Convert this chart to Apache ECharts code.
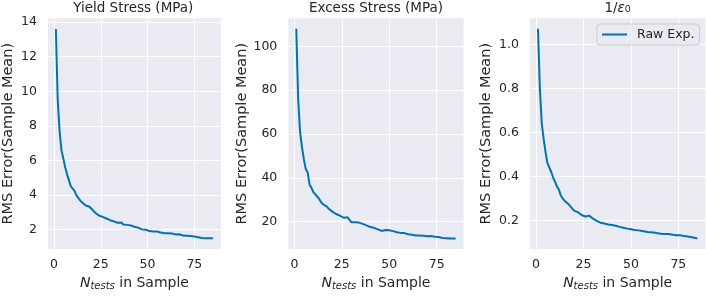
<!DOCTYPE html>
<html>
<head>
<meta charset="utf-8">
<script src="https://cdn.jsdelivr.net/npm/echarts@6/dist/echarts.min.js"></script>
<style>
html,body{margin:0;padding:0;background:#fff;}
#chart{width:706px;height:296px;}
</style>
</head>
<body>
<div id="chart"></div>
<script>
const nTests = [1,2,3,4,5,6,7,8,9,10,11,12,13,14,15,16,17,18,19,20,21,22,23,24,25,26,27,28,29,30,31,32,33,34,35,36,37,38,39,40,41,42,43,44,45,46,47,48,49,50,51,52,53,54,55,56,57,58,59,60,61,62,63,64,65,66,67,68,69,70,71,72,73,74,75,76,77,78,79,80,81,82,83,84,85];

const yieldStress = [13.6,9.5,7.7,6.6,6.1,5.6,5.2,4.85,4.5,4.55,4.25,3.98,3.9,3.7,3.58,3.5,3.4,3.42,3.33,3.22,3.1,2.98,2.88,2.82,2.78,2.74,2.7,2.65,2.6,2.55,2.52,2.48,2.44,2.4,2.36,2.42,2.3,2.26,2.28,2.24,2.25,2.2,2.17,2.14,2.12,2.08,2.02,1.98,2.0,1.95,1.93,1.96,1.9,1.88,1.9,1.86,1.84,1.82,1.8,1.82,1.79,1.76,1.78,1.75,1.73,1.7,1.74,1.7,1.66,1.68,1.65,1.62,1.64,1.6,1.61,1.58,1.57,1.55,1.52,1.48,1.5,1.52,1.5,1.51,1.51];

const excessStress = [108,76,61,54,48.5,44,42.5,37,35.5,33.5,33,31.5,30.5,29,28,27.5,27,26,25.2,24.6,24,23.5,23,22.8,22.4,21.8,22.2,22,22.3,19.8,19.6,19.8,19.5,19.6,19.2,19,18.8,18.3,18,17.6,17.4,17.2,16.9,16.5,16.2,15.8,15.9,16.2,15.8,16.1,15.6,15.7,15.4,15.2,15.1,14.9,14.7,14.8,14.5,14.3,14.2,14.0,13.8,13.7,13.6,13.7,13.8,13.6,13.7,13.4,13.3,13.5,13.2,13.1,12.9,13.0,12.8,12.6,12.8,12.5,12.4,12.3,12.4,12.3,12.3];

const invEps0 = [1.07,0.80,0.64,0.57,0.51,0.46,0.44,0.42,0.395,0.375,0.355,0.34,0.315,0.3,0.29,0.285,0.275,0.265,0.255,0.245,0.24,0.238,0.23,0.225,0.222,0.218,0.212,0.222,0.215,0.208,0.2,0.198,0.195,0.19,0.188,0.186,0.184,0.182,0.18,0.179,0.178,0.176,0.173,0.171,0.169,0.167,0.165,0.163,0.162,0.16,0.159,0.157,0.156,0.155,0.153,0.152,0.151,0.149,0.148,0.146,0.145,0.145,0.143,0.142,0.143,0.14,0.141,0.139,0.138,0.139,0.136,0.135,0.134,0.133,0.132,0.133,0.13,0.129,0.13,0.127,0.126,0.124,0.122,0.12,0.118];

const xTicks = [0,25,50,75];
const yieldTicks = [2,4,6,8,10,12,14];
const excessTicks = [20,40,60,80,100];
const epsTicks = [0.2,0.4,0.6,0.8,1.0];

const titles = ['Yield Stress (MPa)', 'Excess Stress (MPa)', '{a|1/}{e|ε}{s|0}'];
const yLabel = 'RMS Error(Sample Mean)';
const xLabel = '{n|N}{s|tests}{a| in Sample}';
const seriesName = 'Raw Exp.';

const FONT = 'DejaVu Sans';
const TXT = '#262626';
const BG = '#EAEAF2';
const LINE = '#0173B2';

const panels = [
  {left: 45.6, ys: yieldStress, yMin: 0.88, yMax: 14.22, yTicks: yieldTicks, gap: 32, fmt: v => String(v)},
  {left: 288.3, ys: excessStress, yMin: 7.5, yMax: 112.8, yTicks: excessTicks, gap: 39, fmt: v => String(v)},
  {left: 530, ys: invEps0, yMin: 0.070, yMax: 1.118, yTicks: epsTicks, gap: 36, fmt: v => v.toFixed(1)}
];
const W = 175.3, TOP = 18.3, H = 234.7;

const richName = {
  n: {fontFamily: FONT, fontSize: 14, fontStyle: 'italic', color: TXT},
  s: {fontFamily: FONT, fontSize: 10, fontStyle: 'italic', color: TXT, padding: [6,0,0,0]},
  a: {fontFamily: FONT, fontSize: 14, color: TXT}
};

const option = {
  animation: false,
  backgroundColor: '#ffffff',
  title: panels.map((p, i) => ({
    text: titles[i],
    left: p.left + W / 2,
    top: 1,
    padding: 0,
    textAlign: 'center',
    textStyle: {
      fontFamily: FONT, fontSize: 13.5, fontWeight: 'normal', color: TXT,
      rich: {
        a: {fontFamily: FONT, fontSize: 13.5, color: TXT},
        e: {fontFamily: FONT, fontSize: 13.5, fontStyle: 'italic', color: TXT},
        s: {fontFamily: FONT, fontSize: 9.5, color: TXT, padding: [4,0,0,0]}
      }
    }
  })),
  legend: {
    data: [seriesName],
    left: 597, top: 24,
    padding: [4, 5, 4, 5],
    backgroundColor: 'rgba(234,234,242,0.8)',
    borderColor: '#cccccc', borderWidth: 1, borderRadius: 3,
    icon: 'rect', itemWidth: 25, itemHeight: 2,
    textStyle: {fontFamily: FONT, fontSize: 12.5, color: TXT, padding: [0,0,0,5]}
  },
  grid: panels.map(p => ({left: p.left, top: TOP, width: W, height: H, show: true, backgroundColor: BG, borderWidth: 0})),
  xAxis: panels.map((p, i) => ({
    type: 'value', gridIndex: i, min: -3.2, max: 89.2,
    name: xLabel, nameLocation: 'middle', nameGap: 23,
    nameTextStyle: {fontFamily: FONT, fontSize: 14, color: TXT, rich: richName},
    axisLine: {show: false},
    axisTick: {show: false, customValues: xTicks},
    axisLabel: {customValues: xTicks, margin: 9, fontFamily: FONT, fontSize: 12.5, color: TXT},
    splitLine: {show: true, lineStyle: {color: '#ffffff', width: 1}}
  })),
  yAxis: panels.map((p, i) => ({
    type: 'value', gridIndex: i, min: p.yMin, max: p.yMax,
    name: yLabel, nameLocation: 'middle', nameGap: p.gap,
    nameTextStyle: {fontFamily: FONT, fontSize: 14.5, color: TXT},
    axisLine: {show: false},
    axisTick: {show: false, customValues: p.yTicks},
    axisLabel: {customValues: p.yTicks, margin: 11, fontFamily: FONT, fontSize: 12.5, color: TXT, formatter: p.fmt},
    splitLine: {show: true, lineStyle: {color: '#ffffff', width: 1}}
  })),
  series: panels.map((p, i) => ({
    name: seriesName, type: 'line', xAxisIndex: i, yAxisIndex: i,
    data: nTests.map((n, k) => [n, p.ys[k]]),
    showSymbol: false, symbol: 'none',
    lineStyle: {color: LINE, width: 2},
    itemStyle: {color: LINE}
  }))
};

const chart = echarts.init(document.getElementById('chart'), null, {renderer: 'canvas'});
chart.setOption(option);
</script>
</body>
</html>
